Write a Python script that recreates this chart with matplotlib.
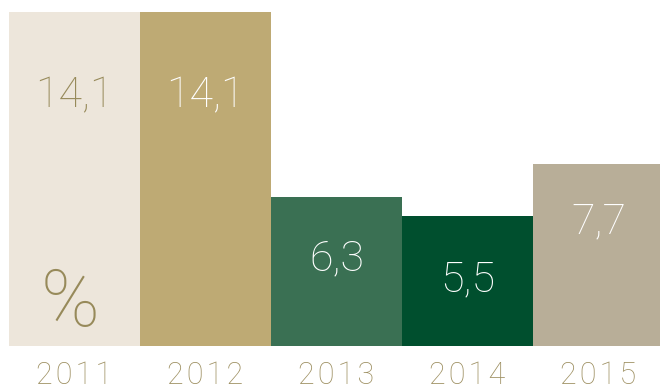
import matplotlib.pyplot as plt

years = ["2011", "2012", "2013", "2014", "2015"]
values = [14.1, 14.1, 6.3, 5.5, 7.7]
labels = ["14,1", "14,1", "6,3", "5,5", "7,7"]

bar_colors = ["#EDE6DB", "#BEAA74", "#3A7053", "#004F2E", "#B8AE98"]
text_colors = ["#978A5A", "#FFFFFF", "#FFFFFF", "#FFFFFF", "#FFFFFF"]
label_drop = [84, 84, 62, 64, 58]  # px below bar top

fam = ["Roboto", "DejaVu Sans"]
fig = plt.figure(figsize=(6.6, 3.89), dpi=100)
ax = fig.add_axes([9 / 660, 43 / 389, 655 / 660, 334 / 389])
x = range(len(years))
ax.bar(x, values, width=1.0, color=bar_colors, linewidth=0)
ax.set_xlim(-0.5, 4.5)
ax.set_ylim(0, 14.1)
ax.axis("off")

for i, v in enumerate(values):
    ax.annotate(labels[i], (i, v), xytext=(0, -label_drop[i] * 0.72),
                textcoords="offset points", ha="center", va="center",
                fontsize=31, color=text_colors[i], family=fam, fontweight="light")
    ax.annotate("\u200a".join(years[i]), (i, 0), xytext=(0, -30 * 0.72),
                textcoords="offset points", ha="center", va="center",
                fontsize=22, color="#9E9062", family=fam, fontweight="light")

ax.annotate("%", (0, 0), xytext=(-3, 42 * 0.72), textcoords="offset points",
            ha="center", va="center", fontsize=57, color="#978A5A",
            family=fam, fontweight="light")

fig.savefig("out.png", dpi=100)
